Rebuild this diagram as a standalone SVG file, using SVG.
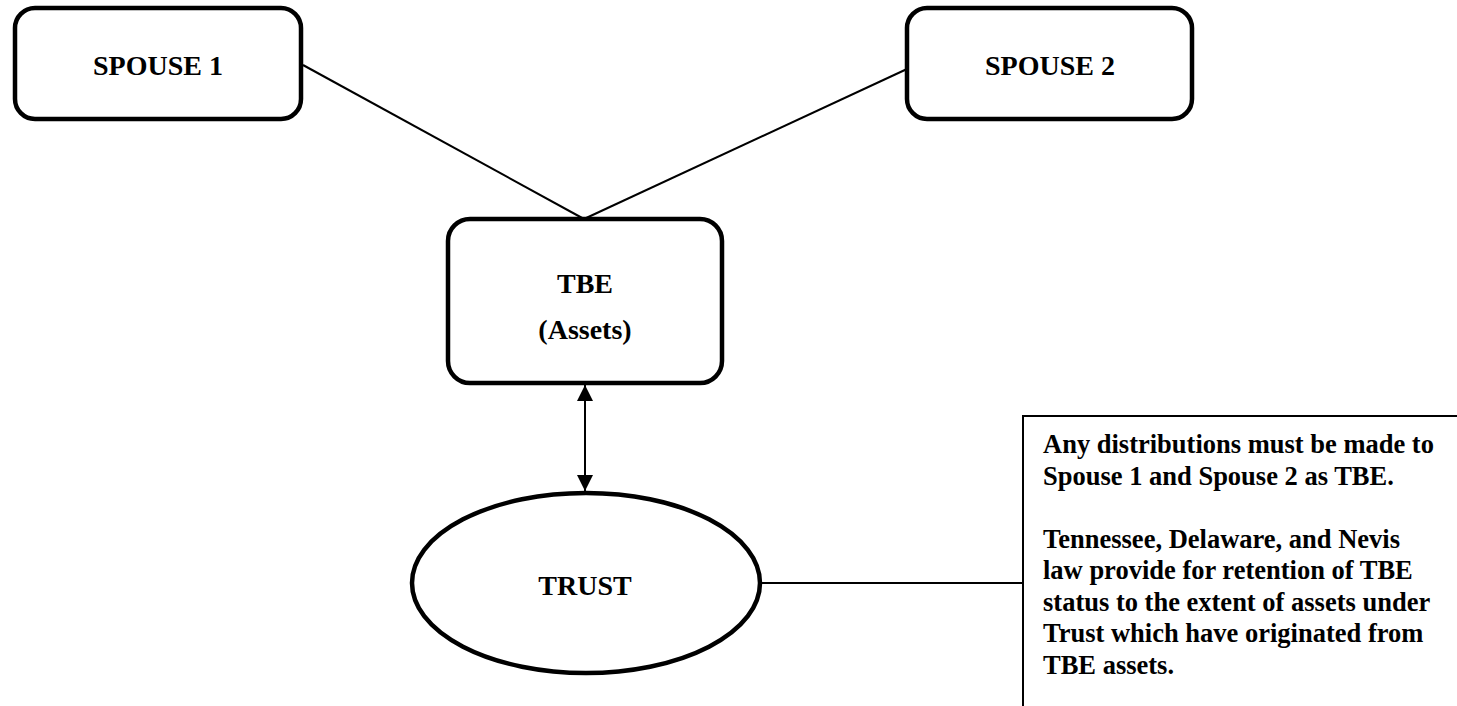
<svg xmlns="http://www.w3.org/2000/svg" width="1457" height="706" viewBox="0 0 1457 706">
  <style>
    .box { fill: #fff; stroke: #000; stroke-width: 4.5; }
    .note { fill: #fff; stroke: #000; stroke-width: 2; }
    .wire { fill: none; stroke: #000; stroke-width: 2; }
    .label { font-family: "Liberation Serif", "Times New Roman", serif; font-weight: bold; font-size: 28px; fill: #000; text-anchor: middle; }
    .body { font-family: "Liberation Serif", "Times New Roman", serif; font-weight: bold; font-size: 26.5px; fill: #000; }
  </style>
  <defs>
    <marker id="head" viewBox="0 0 10 10" refX="10" refY="5" markerWidth="8" markerHeight="8" markerUnits="strokeWidth" orient="auto-start-reverse">
      <path d="M0,0 L10,5 L0,10 z" fill="#000"/>
    </marker>
  </defs>
  <rect width="1457" height="706" fill="#fff"/>

  <!-- connectors -->
  <g id="connectors">
    <line class="wire" x1="303" y1="65" x2="584" y2="219"/>
    <line class="wire" x1="907" y1="69" x2="584" y2="219"/>
    <line class="wire" x1="585" y1="385" x2="585" y2="491" marker-start="url(#head)" marker-end="url(#head)"/>
    <line class="wire" x1="762" y1="583" x2="1023" y2="583"/>
  </g>

  <g id="spouse1">
    <rect class="box" x="15" y="8" width="286" height="111" rx="20"/>
    <text class="label" x="158" y="75">SPOUSE 1</text>
  </g>

  <g id="spouse2">
    <rect class="box" x="907" y="8" width="285" height="111" rx="20"/>
    <text class="label" x="1050" y="75">SPOUSE 2</text>
  </g>

  <g id="tbe">
    <rect class="box" x="448" y="219" width="274" height="164" rx="22"/>
    <text class="label" x="585" y="293">TBE</text>
    <text class="label" x="585" y="339">(Assets)</text>
  </g>

  <g id="trust">
    <ellipse class="box" cx="586" cy="583" rx="174" ry="90"/>
    <text class="label" x="585" y="595">TRUST</text>
  </g>

  <g id="note">
    <rect class="note" x="1023" y="416" width="460" height="320"/>
    <text class="body" x="1043">
      <tspan x="1043" y="453">Any distributions must be made to</tspan>
      <tspan x="1043" y="484.5">Spouse 1 and Spouse 2 as TBE.</tspan>
      <tspan x="1043" y="547.5">Tennessee, Delaware, and Nevis</tspan>
      <tspan x="1043" y="579">law provide for retention of TBE</tspan>
      <tspan x="1043" y="610.5">status to the extent of assets under</tspan>
      <tspan x="1043" y="642">Trust which have originated from</tspan>
      <tspan x="1043" y="673.5">TBE assets.</tspan>
    </text>
  </g>
</svg>
